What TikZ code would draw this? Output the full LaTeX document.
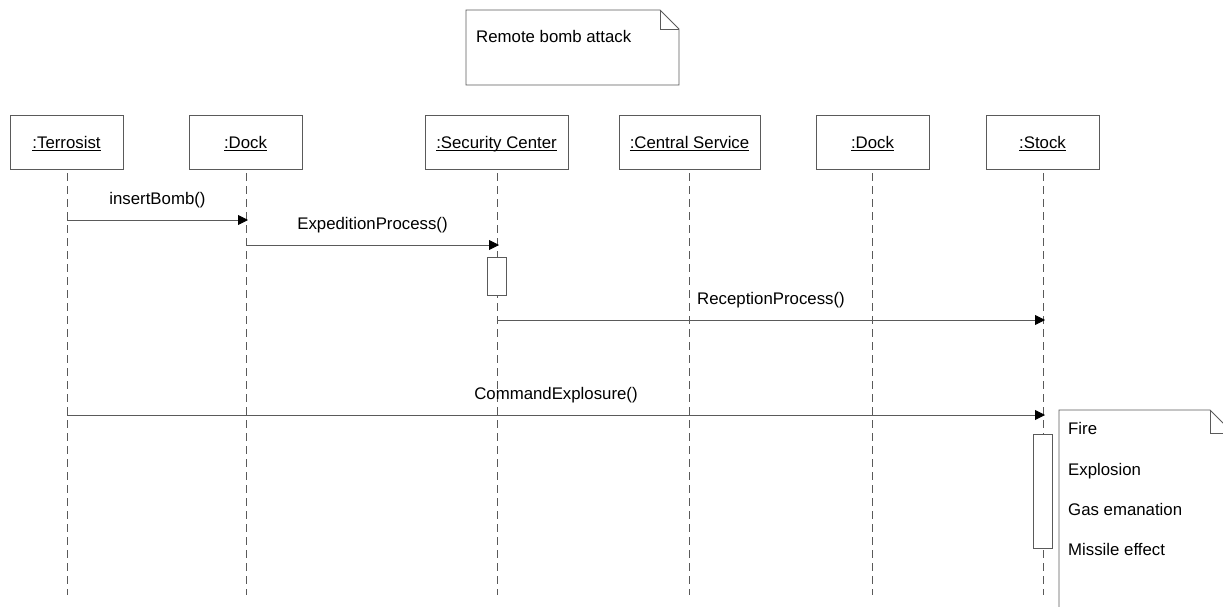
\documentclass[tikz,border=0pt]{standalone}
\usepackage{fontspec}
\setmainfont{Liberation Sans}
\usetikzlibrary{arrows.meta}
\definecolor{ln}{HTML}{5A5A5A}
\newcommand\myul[1]{\leavevmode\setbox0\hbox{#1}\rlap{\rule[-2.2pt]{\wd0}{0.9pt}}\box0}
\tikzset{
  obj/.style={draw=ln, line width=0.9pt, fill=white, minimum height=54pt, inner sep=0pt, text height=14pt, text depth=1pt, font=\fontsize{16.8}{20}\selectfont},
  lifeline/.style={draw=ln, line width=0.9pt, dash pattern=on 8pt off 5pt},
  msg/.style={draw=ln, line width=0.9pt, -{Triangle[length=10pt,width=10pt,color=black]}},
  mlabel/.style={font=\fontsize{16.8}{20}\selectfont, above=12pt, inner sep=0pt},
  act/.style={draw=ln, line width=0.9pt, fill=white, minimum width=19pt, inner sep=0pt},
  txt/.style={font=\fontsize{16.8}{20}\selectfont, inner sep=0pt},
  notebox/.style={draw=ln, line width=0.9pt, fill=white, line join=miter}
}
\begin{document}
\begin{tikzpicture}[x=1pt, y=-1pt]
\useasboundingbox (0,0) rectangle (1223,607);
\clip (0,0) rectangle (1223,607);
% top note
\draw[notebox] (466,10) -- (660,10) -- (679,29) -- (679,85) -- (466,85) -- cycle;
\draw[draw=ln, line width=0.9pt] (660,10) -- (660,29) -- (679,29);
\node[txt, anchor=base west] (title) at (476,43) {Remote bomb attack};
% headers
\node[obj, minimum width=113pt] (terr) at (66.5,142) {\myul{:Terrosist}};
\node[obj, minimum width=113pt] (dock1) at (245.5,142) {\myul{:Dock}};
\node[obj, minimum width=143pt] (sec) at (496.5,142) {\myul{:Security Center}};
\node[obj, minimum width=141pt] (cent) at (689.5,142) {\myul{:Central Service}};
\node[obj, minimum width=113pt] (dock2) at (872.5,142) {\myul{:Dock}};
\node[obj, minimum width=113pt] (stock) at (1042.5,142) {\myul{:Stock}};
% lifeline ends
\coordinate (terrE) at (67,595);
\coordinate (dock1E) at (246,595);
\coordinate (secE) at (497,595);
\coordinate (centE) at (689,595);
\coordinate (dock2E) at (872,595);
\coordinate (stockE) at (1043,595);
\draw[lifeline] (67,173) -- (terrE);
\draw[lifeline] (246,173) -- (dock1E);
\draw[lifeline] (497,173) -- (secE);
\draw[lifeline] (689,173) -- (centE);
\draw[lifeline] (872,173) -- (dock2E);
\draw[lifeline] (1043,173) -- (stockE);
% activations
\node[act, minimum height=38pt] (secAct) at (497,276) {};
\node[act, minimum height=114pt] (stockAct) at (1043,491) {};
% message endpoints
\coordinate (m1a) at (67,220);   \coordinate (m1b) at (248,220);
\coordinate (m2a) at (246,245);  \coordinate (m2b) at (499,245);
\coordinate (m3a) at (497,320);  \coordinate (m3b) at (1045,320);
\coordinate (m4a) at (67,415);   \coordinate (m4b) at (1045,415);
\draw[msg] (m1a) -- node[mlabel] {insertBomb()} (m1b);
\draw[msg] (m2a) -- node[mlabel] {ExpeditionProcess()} (m2b);
\draw[msg] (m3a) -- node[mlabel] {ReceptionProcess()} (m3b);
\draw[msg] (m4a) -- node[mlabel] {CommandExplosure()} (m4b);
% right note
\draw[notebox] (1059,620) -- (1059,410) -- (1210,410) -- (1233,433) -- (1233,620);
\draw[draw=ln, line width=0.9pt] (1210,410) -- (1210,433) -- (1233,433);
\node[txt, anchor=base west] (n1) at (1068,434) {Fire};
\node[txt, anchor=base west] (n2) at (1068,475) {Explosion};
\node[txt, anchor=base west] (n3) at (1068,515) {Gas emanation};
\node[txt, anchor=base west] (n4) at (1068,555) {Missile effect};
\end{tikzpicture}
\end{document}
